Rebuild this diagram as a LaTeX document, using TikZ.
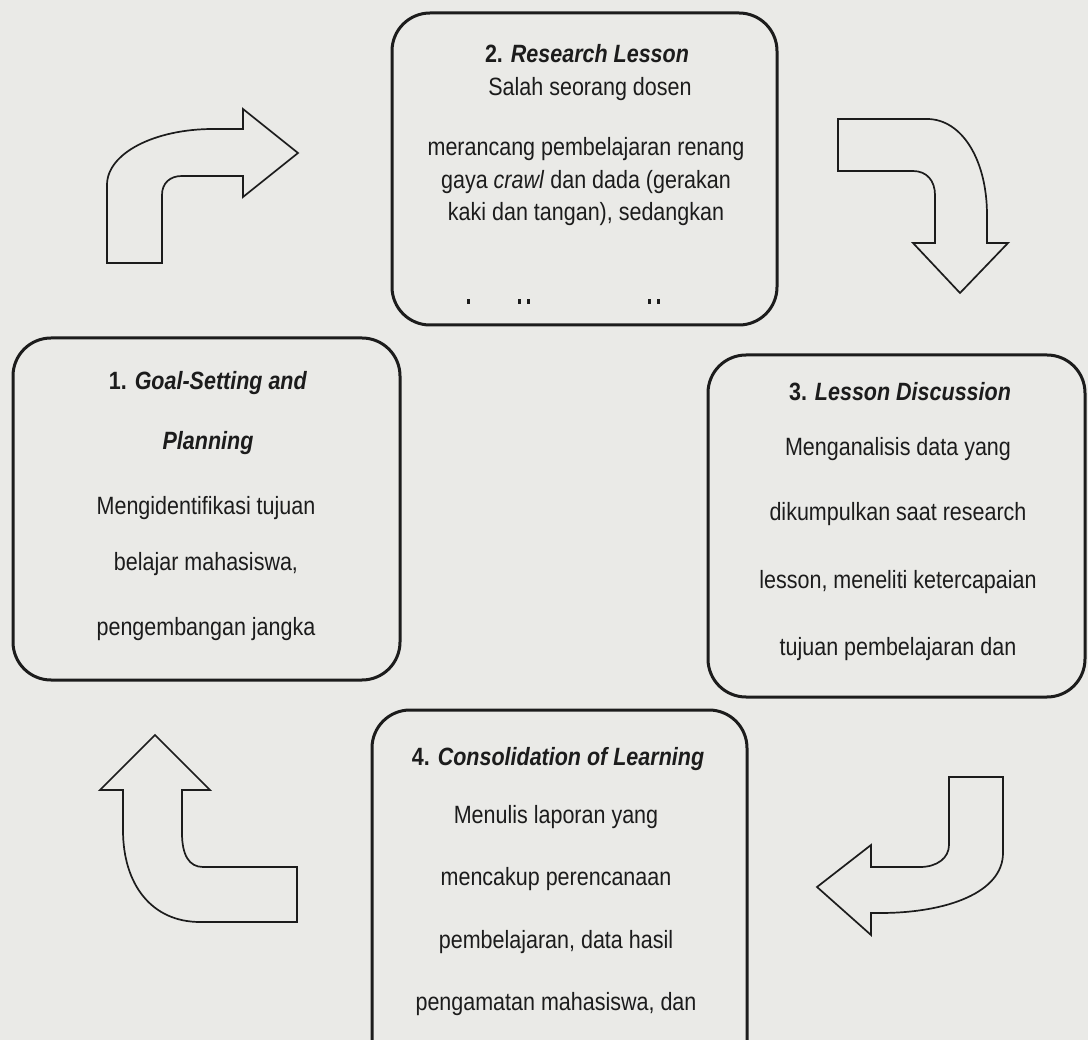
\documentclass[tikz,border=0pt]{standalone}
\usepackage{fontspec}
\setmainfont{Liberation Sans}[FakeStretch=0.86]
\definecolor{paper}{RGB}{234,234,231}
\definecolor{ink}{RGB}{28,28,28}
\begin{document}
\begin{tikzpicture}[x=1pt,y=-1pt,
  box/.style={draw=ink, line width=3pt, rounded corners=38pt, inner sep=0pt},
  txt/.style={anchor=base, text=ink, inner sep=0pt, font=\fontsize{25}{30}\selectfont},
  hd/.style={txt, font=\fontsize{25}{30}\selectfont\bfseries},
  blockarrow/.style={draw=ink, line width=1.7pt, fill=paper, line join=miter}]
\useasboundingbox (0,0) rectangle (1088,1040);
\fill[paper] (0,0) rectangle (1088,1040);
\clip (0,0) rectangle (1088,1040);

% boxes
\node[box, minimum width=387pt, minimum height=342pt] (b1) at (206.5,509) {};
\node[box, minimum width=385pt, minimum height=312pt] (b2) at (584.5,169) {};
\node[box, minimum width=377pt, minimum height=342pt] (b3) at (896.5,526) {};
\node[box, minimum width=375pt, minimum height=370pt] (b4) at (559.5,895) {};

% box 1
\node[hd] (b1h1) at (208,390) {1. \textit{Goal-Setting and}};
\node[hd] (b1h2) at (208,450) {\textit{Planning}};
\node[txt] (b1l1) at (206,515) {Mengidentifikasi tujuan};
\node[txt] (b1l2) at (206,571) {belajar mahasiswa,};
\node[txt] (b1l3) at (206,635) {pengembangan jangka};

% box 2
\node[hd] (b2h) at (587,63) {2. \textit{Research Lesson}};
\node[txt] (b2l1) at (590,96) {Salah seorang dosen};
\node[txt] (b2l2) at (586,156) {merancang pembelajaran renang};
\node[txt] (b2l3) at (586,189) {gaya \textit{crawl} dan dada (gerakan};
\node[txt] (b2l4) at (586,221) {kaki dan tangan), sedangkan};
\foreach \px in {467,518,527,648,657}
  \fill[ink] (\px,299) rectangle ++(2.5,5);

% box 3
\node[hd] (b3h) at (900,401) {3. \textit{Lesson Discussion}};
\node[txt] (b3l1) at (898,456) {Menganalisis data yang};
\node[txt] (b3l2) at (898,521) {dikumpulkan saat research};
\node[txt] (b3l3) at (898,588) {lesson, meneliti ketercapaian};
\node[txt] (b3l4) at (898,655) {tujuan pembelajaran dan};

% box 4
\node[hd] (b4h) at (558,765) {4. \textit{Consolidation of Learning}};
\node[txt] (b4l1) at (556,823) {Menulis laporan yang};
\node[txt] (b4l2) at (556,885) {mencakup perencanaan};
\node[txt] (b4l3) at (556,948) {pembelajaran, data hasil};
\node[txt] (b4l4) at (556,1010) {pengamatan mahasiswa, dan};

% arrow 1 -> 2 (top left, pointing right)
\draw[blockarrow] (107,263) -- (107,185)
  .. controls (107,153) and (155,129) .. (213,129) -- (243,129) -- (243,109)
  -- (298,153) -- (243,197) -- (243,176) -- (182,176)
  .. controls (170,176) and (162,183) .. (162,195) -- (162,263) -- cycle;

% arrow 2 -> 3 (top right, pointing down)
\draw[blockarrow] (838,119) -- (927,119)
  .. controls (962,119) and (987,160) .. (987,215) -- (987,243) -- (1008,243)
  -- (960,293) -- (913,243) -- (935,243) -- (935,195)
  .. controls (935,181) and (927,171) .. (913,171) -- (838,171) -- cycle;

% arrow 3 -> 4 (bottom right, pointing left)
\draw[blockarrow] (949,777) -- (1003,777) -- (1003,853)
  .. controls (1003,892) and (948,913) .. (880,913) -- (871,913) -- (871,935)
  -- (817,887) -- (871,845) -- (871,867) -- (920,867)
  .. controls (937,867) and (949,858) .. (949,845) -- cycle;

% arrow 4 -> 1 (bottom left, pointing up)
\draw[blockarrow] (155,735) -- (210,790) -- (182,790) -- (182,833)
  .. controls (182,855) and (189,867) .. (203,867) -- (297,867) -- (297,922)
  -- (200,922) .. controls (152,922) and (123,885) .. (123,830)
  -- (123,790) -- (100,790) -- cycle;
\end{tikzpicture}
\end{document}
